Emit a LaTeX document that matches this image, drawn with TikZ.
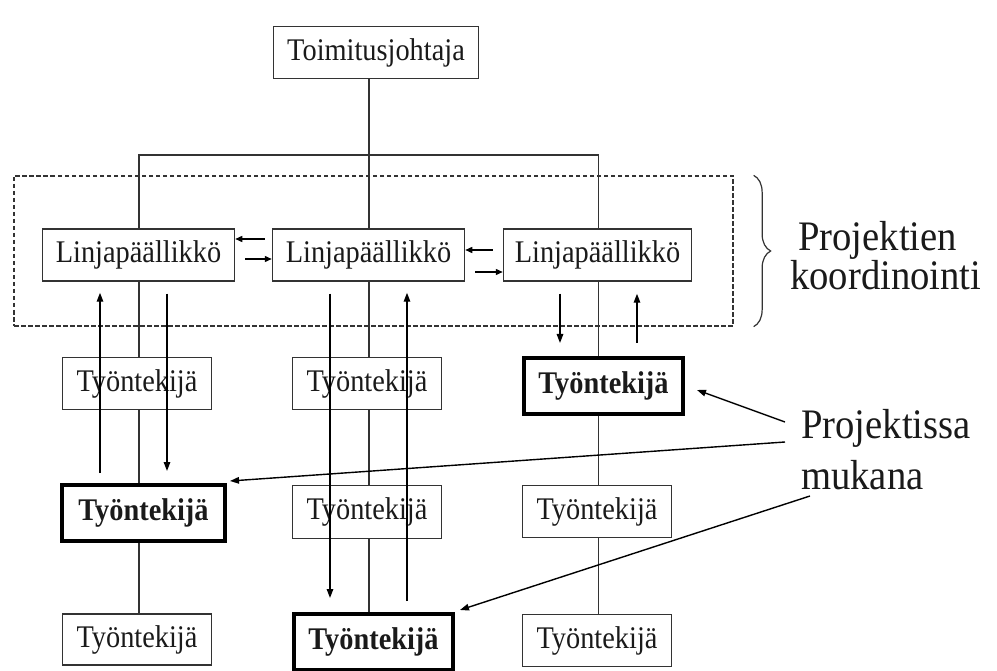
\documentclass[tikz,border=0pt]{standalone}
\usepackage{fontspec}
\setmainfont{Liberation Serif}
\newfontfamily\boxfont{Liberation Serif}[FakeStretch=0.9]
\newfontfamily\labelfont{Liberation Serif}[FakeStretch=0.92]
\usetikzlibrary{arrows.meta,backgrounds,decorations.pathreplacing,calc}
\definecolor{linec}{HTML}{333333}
\definecolor{inkc}{HTML}{1A1A1A}
\begin{document}
\begin{tikzpicture}[x=1pt,y=-1pt,
  box/.style={draw=linec,line width=1.5pt,fill=white,inner sep=0pt,text=inkc,
    font=\boxfont\fontsize{31.5}{33}\selectfont},
  boldbox/.style={box,draw=black,line width=4pt,
    font=\boxfont\fontsize{31.5}{33}\selectfont\bfseries},
  org/.style={draw=linec,line width=1.4pt},
  arr/.style={draw=black,line width=1.4pt,-{Triangle[length=9pt,width=6.5pt]}},
  sarr/.style={draw=black,line width=1.4pt,-{Triangle[length=7pt,width=6pt]}},
  biglabel/.style={inner sep=0pt,anchor=base west,text=inkc,
    font=\labelfont\fontsize{42}{46}\selectfont},
  groupbox/.style={draw=linec,line width=1.3pt,dash pattern=on 4.5pt off 2.5pt,
    inner sep=0pt}]

\useasboundingbox (0,0) rectangle (997,671);

% coordination group (dashed frame)
\node[groupbox,minimum width=719pt,minimum height=150pt] (grp) at (373.5,251) {};

% managing director
\node[box,minimum width=205pt,minimum height=52pt] (toim) at (376,52.5) {Toimitusjohtaja};

% line managers
\node[box,minimum width=192pt,minimum height=52pt] (L1) at (138.5,255) {Linjapäällikkö};
\node[box,minimum width=192pt,minimum height=52pt] (L2) at (368.5,255) {Linjapäällikkö};
\node[box,minimum width=188pt,minimum height=52pt] (L3) at (597.5,255) {Linjapäällikkö};

% employees, row 1
\node[box,minimum width=149pt,minimum height=52pt] (r1l) at (137,383.5) {Työntekijä};
\node[box,minimum width=149pt,minimum height=52pt] (r1m) at (367,383.5) {Työntekijä};
\node[boldbox,minimum width=159pt,minimum height=56pt] (r1r) at (603.5,386) {Työntekijä};

% employees, row 2
\node[boldbox,minimum width=163pt,minimum height=56pt] (r2l) at (143.5,513) {Työntekijä};
\node[box,minimum width=149pt,minimum height=53pt] (r2m) at (367,512) {Työntekijä};
\node[box,minimum width=149pt,minimum height=52pt] (r2r) at (597,511.5) {Työntekijä};

% employees, row 3
\node[box,minimum width=149pt,minimum height=51pt] (r3l) at (137,639.5) {Työntekijä};
\node[boldbox,minimum width=159pt,minimum height=56pt] (r3m) at (373.5,642) {Työntekijä};
\node[box,minimum width=149pt,minimum height=52pt] (r3r) at (597,640.5) {Työntekijä};

% white canvas and organisation lines behind the boxes
\begin{scope}[on background layer]
  \fill[white] (0,0) rectangle (997,671);
  \coordinate (bar) at (369,155);
  \coordinate (colL) at (139,0);
  \coordinate (colM) at (369,0);
  \coordinate (colR) at (598.5,0);
  \draw[org] (toim.south -| colM) -- (L2.north -| colM);
  \draw[org] (L1.north -| colL) -- (bar -| colL) -- (bar -| colR) -- (L3.north -| colR);
  \draw[org] (L1.south -| colL) -- (r3l.north -| colL);
  \draw[org] (L2.south -| colM) -- (r3m.north -| colM);
  \draw[org] (L3.south -| colR) -- (r3r.north -| colR);
\end{scope}

% brace and labels
\draw[linec,line width=1.2pt,decorate,decoration={brace,amplitude=17pt}]
  ($(grp.north east)+(20,0)$) -- ($(grp.south east)+(20,0)$);
\node[biglabel] (pk1) at (798,251) {Projektien};
\node[biglabel] (pk2) at (790,290) {koordinointi};
\node[biglabel] (pm1) at (801,438) {Projektissa};
\node[biglabel] (pm2) at (801,489) {mukana};

% information flow between line managers
\draw[sarr] ($(L2.west)+(-7,-16)$) -- ($(L1.east)+(0,-16)$);
\draw[sarr] ($(L1.east)+(10,4)$) -- ($(L2.west)+(0,4)$);
\draw[sarr] ($(L3.west)+(-10,-5)$) -- ($(L2.east)+(0,-5)$);
\draw[sarr] ($(L2.east)+(10,17)$) -- ($(L3.west)+(0,17)$);

% project assignments down and reports up
\coordinate (xLu) at (100,0);
\coordinate (xLd) at (167,0);
\coordinate (xMd) at (330,0);
\coordinate (xMu) at (407,0);
\coordinate (xRd) at (560,0);
\coordinate (xRu) at (637,0);
\draw[arr] ($(r2l.north -| xLu)+(0,-10)$) -- ($(L1.south -| xLu)+(0,11)$);
\draw[arr] ($(L1.south -| xLd)+(0,12)$) -- ($(r2l.north -| xLd)+(0,-12)$);
\draw[arr] ($(L2.south -| xMd)+(0,12)$) -- ($(r3m.north -| xMd)+(0,-14)$);
\draw[arr] ($(r3m.north -| xMu)+(0,-11)$) -- ($(L2.south -| xMu)+(0,11)$);
\draw[arr] ($(L3.south -| xRd)+(0,12)$) -- ($(r1r.north -| xRd)+(0,-13)$);
\draw[arr] ($(r1r.north -| xRu)+(0,-13)$) -- ($(L3.south -| xRu)+(0,12)$);

% pointers from the label to the project members
\coordinate (pa) at (785,422);
\coordinate (pb) at (785,442);
\coordinate (pc) at (810,496);
\draw[arr] (pa) -- ($(r1r.east)+(12,4)$);
\draw[arr] (pb) -- ($(r2l.north east)+(3,-2)$);
\draw[arr] (pc) -- ($(r3m.north east)+(5,-2)$);
\end{tikzpicture}
\end{document}
